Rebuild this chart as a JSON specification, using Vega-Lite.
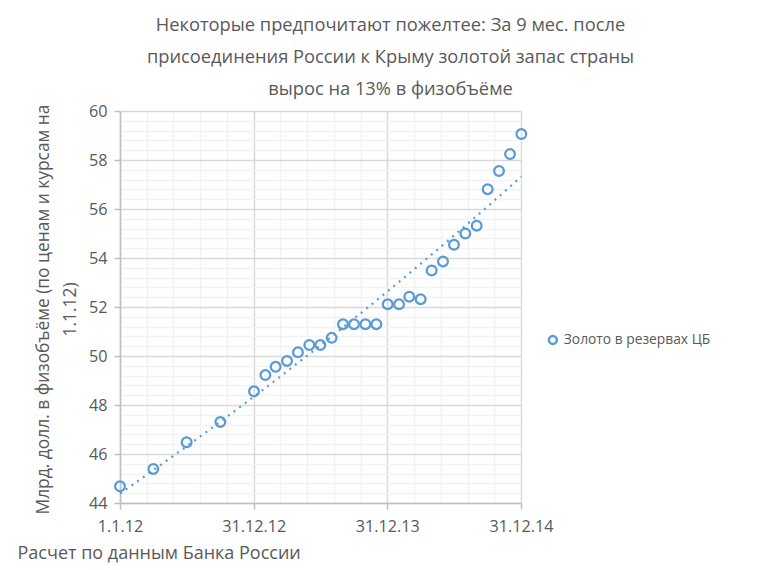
{
  "$schema": "https://vega.github.io/schema/vega-lite/v6.json",
  "width": 401,
  "height": 392,
  "autosize": "none",
  "padding": {"left": 120, "top": 111, "right": 236, "bottom": 67},
  "background": "white",
  "config": {
    "font": "Open Sans",
    "view": {"stroke": null}
  },
  "title": {
    "text": ["Некоторые предпочитают пожелтее: За 9 мес. после", "присоединения России к Крыму золотой запас страны", "вырос на 13% в физобъёме"],
    "font": "Open Sans",
    "fontSize": 18.3,
    "fontWeight": "normal",
    "color": "#595959",
    "anchor": "middle",
    "frame": "group",
    "dx": 70,
    "dy": 25,
    "lineHeight": 32,
    "baseline": "bottom",
    "offset": 11
  },
  "data": {
    "values": [
      {"date": "2012-01-01", "value": 44.68, "series": "Золото в резервах ЦБ"},
      {"date": "2012-04-01", "value": 45.39, "series": "Золото в резервах ЦБ"},
      {"date": "2012-07-01", "value": 46.48, "series": "Золото в резервах ЦБ"},
      {"date": "2012-10-01", "value": 47.31, "series": "Золото в резервах ЦБ"},
      {"date": "2013-01-01", "value": 48.56, "series": "Золото в резервах ЦБ"},
      {"date": "2013-02-01", "value": 49.22, "series": "Золото в резервах ЦБ"},
      {"date": "2013-03-01", "value": 49.56, "series": "Золото в резервах ЦБ"},
      {"date": "2013-04-01", "value": 49.8, "series": "Золото в резервах ЦБ"},
      {"date": "2013-05-01", "value": 50.15, "series": "Золото в резервах ЦБ"},
      {"date": "2013-06-01", "value": 50.45, "series": "Золото в резервах ЦБ"},
      {"date": "2013-07-01", "value": 50.45, "series": "Золото в резервах ЦБ"},
      {"date": "2013-08-01", "value": 50.74, "series": "Золото в резервах ЦБ"},
      {"date": "2013-09-01", "value": 51.3, "series": "Золото в резервах ЦБ"},
      {"date": "2013-10-01", "value": 51.3, "series": "Золото в резервах ЦБ"},
      {"date": "2013-11-01", "value": 51.3, "series": "Золото в резервах ЦБ"},
      {"date": "2013-12-01", "value": 51.3, "series": "Золото в резервах ЦБ"},
      {"date": "2014-01-01", "value": 52.11, "series": "Золото в резервах ЦБ"},
      {"date": "2014-02-01", "value": 52.11, "series": "Золото в резервах ЦБ"},
      {"date": "2014-03-01", "value": 52.42, "series": "Золото в резервах ЦБ"},
      {"date": "2014-04-01", "value": 52.32, "series": "Золото в резервах ЦБ"},
      {"date": "2014-05-01", "value": 53.49, "series": "Золото в резервах ЦБ"},
      {"date": "2014-06-01", "value": 53.86, "series": "Золото в резервах ЦБ"},
      {"date": "2014-07-01", "value": 54.54, "series": "Золото в резервах ЦБ"},
      {"date": "2014-08-01", "value": 55.0, "series": "Золото в резервах ЦБ"},
      {"date": "2014-09-01", "value": 55.32, "series": "Золото в резервах ЦБ"},
      {"date": "2014-10-01", "value": 56.81, "series": "Золото в резервах ЦБ"},
      {"date": "2014-11-01", "value": 57.55, "series": "Золото в резервах ЦБ"},
      {"date": "2014-12-01", "value": 58.24, "series": "Золото в резервах ЦБ"},
      {"date": "2015-01-01", "value": 59.06, "series": "Золото в резервах ЦБ"}
    ]
  },
  "encoding": {
    "x": {
      "field": "date",
      "type": "temporal",
      "scale": {"type": "utc", "domain": [1325376000000, 1419984000000], "nice": false},
      "axis": {
        "values": [1325376000000, 1331683200000, 1337990400000, 1344297600000, 1350604800000, 1356912000000, 1363219200000, 1369526400000, 1375833600000, 1382140800000, 1388448000000, 1394755200000, 1401062400000, 1407369600000, 1413676800000, 1419984000000],
        "labelExpr": "(datum.value - 1325376000000) % 31536000000 == 0 ? utcFormat(datum.value, '%-d.%-m.%y') : ''",
        "grid": true,
        "gridColor": {"condition": {"test": "(datum.value - 1325376000000) % 31536000000 == 0", "value": "#d9d9d9"}, "value": "#f2f2f2"},
        "gridWidth": 1.5,
        "ticks": true,
        "tickColor": {"condition": {"test": "(datum.value - 1325376000000) % 31536000000 == 0", "value": "#bfbfbf"}, "value": "transparent"},
        "tickSize": 6,
        "tickWidth": 1.5,
        "domainColor": "#bfbfbf",
        "domainWidth": 1.5,
        "labelFont": "Open Sans",
        "labelFontSize": 16.2,
        "labelColor": "#595959",
        "labelPadding": 9,
        "labelOverlap": false,
        "labelFlush": false,
        "title": "Расчет по данным Банка России",
        "titleFont": "Open Sans",
        "titleFontSize": 18,
        "titleFontWeight": "normal",
        "titleColor": "#595959",
        "titleAnchor": "start",
        "titleAlign": "left",
        "titleBaseline": "alphabetic",
        "titleX": -103,
        "titleY": 55
      }
    },
    "y": {
      "field": "value",
      "type": "quantitative",
      "scale": {"domain": [44, 60], "nice": false, "zero": false},
      "axis": {
        "values": [44,44.4,44.8,45.2,45.6,46,46.4,46.8,47.2,47.6,48,48.4,48.8,49.2,49.6,50,50.4,50.8,51.2,51.6,52,52.4,52.8,53.2,53.6,54,54.4,54.8,55.2,55.6,56,56.4,56.8,57.2,57.6,58,58.4,58.8,59.2,59.6,60],
        "labelExpr": "datum.value % 2 == 0 ? format(datum.value, 'd') : ''",
        "grid": true,
        "gridColor": {"condition": {"test": "datum.value % 2 == 0", "value": "#d9d9d9"}, "value": "#f2f2f2"},
        "gridWidth": 1.5,
        "tickColor": {"condition": {"test": "datum.value % 2 == 0", "value": "#bfbfbf"}, "value": "transparent"},
        "tickSize": 6,
        "tickWidth": 1.5,
        "domainColor": "#bfbfbf",
        "domainWidth": 1.5,
        "labelFont": "Open Sans",
        "labelFontSize": 16.2,
        "labelColor": "#595959",
        "labelPadding": 7,
        "labelOverlap": false,
        "labelFlush": false,
        "title": ["Млрд. долл. в физобъёме (по ценам и курсам на", "1.1.12)"],
        "titleFont": "Open Sans",
        "titleFontSize": 17.4,
        "titleFontWeight": "normal",
        "titleColor": "#595959",
        "titleAngle": -90,
        "titleAlign": "center",
        "titleBaseline": "alphabetic",
        "titleLineHeight": 27,
        "titleX": -72,
        "titleY": 198
      }
    }
  },
  "layer": [
    {
      "mark": {"type": "point", "filled": false, "size": 95, "strokeWidth": 2.25, "opacity": 1},
      "encoding": {
        "color": {
          "field": "series",
          "type": "nominal",
          "scale": {"range": ["#5b9bd5"]},
          "legend": {
            "orient": "none",
            "legendX": 426,
            "legendY": 222,
            "title": null,
            "padding": 0,
            "symbolType": "circle",
            "symbolSize": 64,
            "symbolStrokeWidth": 2.5,
            "labelFont": "Open Sans",
            "labelFontSize": 13.8,
            "labelColor": "#595959",
            "labelOffset": 4
          }
        }
      }
    },
    {
      "transform": [{"regression": "value", "on": "date", "method": "exp"}],
      "mark": {"type": "line", "color": "#5b9bd5", "strokeWidth": 2.25, "strokeDash": [2, 5]},
      "encoding": {}
    }
  ]
}
